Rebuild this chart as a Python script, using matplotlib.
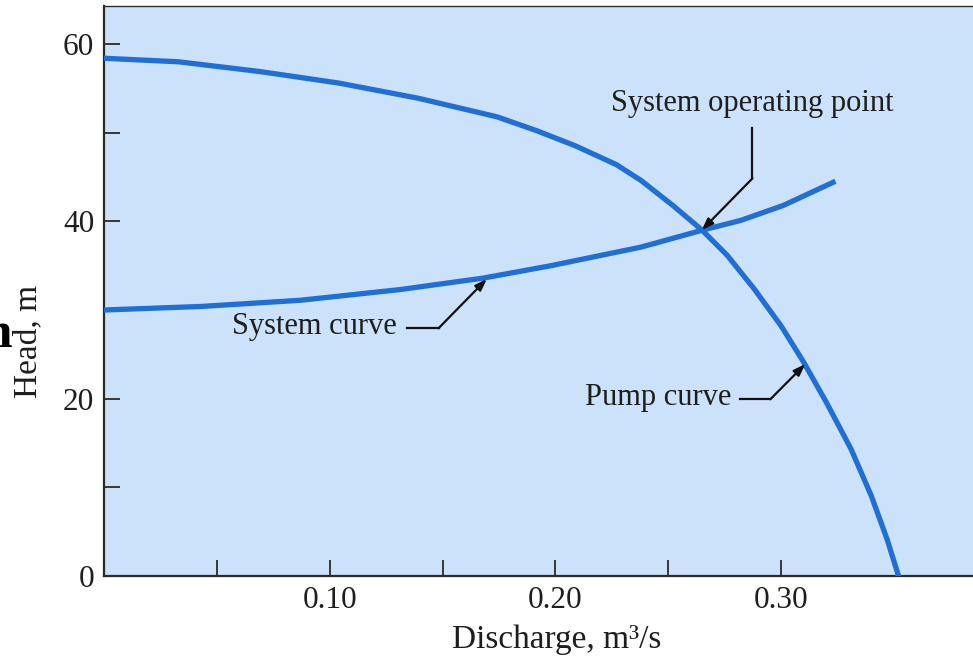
import matplotlib
matplotlib.use("Agg")
import matplotlib.pyplot as plt
from matplotlib.ticker import FixedLocator

# values
pump_q = [0.0, 0.033, 0.069, 0.104, 0.139, 0.174, 0.192, 0.209, 0.227, 0.238, 0.252,
          0.265, 0.276, 0.288, 0.300, 0.310, 0.320, 0.331, 0.340, 0.347, 0.352]
pump_h = [58.4, 58.0, 56.9, 55.6, 53.9, 51.8, 50.2, 48.5, 46.4, 44.6, 41.8,
          39.0, 36.2, 32.4, 28.2, 24.1, 19.6, 14.3, 9.0, 4.1, 0.0]
system_q = [0.0, 0.043, 0.087, 0.131, 0.168, 0.198, 0.238, 0.265, 0.282, 0.301, 0.323]
system_h = [30.0, 30.4, 31.1, 32.3, 33.6, 35.0, 37.1, 39.0, 40.1, 41.8, 44.4]
x_labels = ["0.10", "0.20", "0.30"]
y_labels = ["0", "20", "40", "60"]

plt.rcParams['font.family'] = ['Liberation Serif', 'DejaVu Serif']
fs = 22
txt = '#1e1e1e'
blue = '#1f6fd6'

fig = plt.figure(figsize=(9.73, 6.59), dpi=100)
ax = fig.add_axes([0.1069, 0.126, 0.8931, 0.865])
ax.set_facecolor('#cce1fa')

ax.plot(pump_q, pump_h, color=blue, lw=3.8, solid_joinstyle='round', zorder=3)
ax.plot(system_q, system_h, color=blue, lw=3.8, solid_joinstyle='round', zorder=3)

ax.set_xlim(0, 0.385)
ax.set_ylim(0, 64.3)

ax.xaxis.set_major_locator(FixedLocator([0.1, 0.2, 0.3]))
ax.xaxis.set_minor_locator(FixedLocator([0.05, 0.15, 0.25]))
ax.set_xticklabels(x_labels)
ax.yaxis.set_major_locator(FixedLocator([0, 20, 40, 60]))
ax.yaxis.set_minor_locator(FixedLocator([10, 30, 50]))
ax.set_yticklabels(y_labels)
for w in ['major', 'minor']:
    ax.tick_params(axis='both', which=w, direction='in', length=11.5, width=1.3,
                   color='#2a2a2a', labelsize=22.5, labelcolor=txt, pad=7)
ax.tick_params(top=False, right=False)

ax.spines['right'].set_visible(False)
ax.spines['left'].set_linewidth(1.6)
ax.spines['bottom'].set_linewidth(1.6)
ax.spines['top'].set_linewidth(1.0)
for s in ax.spines.values():
    s.set_color('#2a2a2a')

ax.set_xlabel('Discharge, m³/s', fontsize=24, color=txt)
ax.xaxis.set_label_coords(0.521, -0.085)
ax.set_ylabel('Head, m', fontsize=24, color=txt)
ax.yaxis.set_label_coords(-0.070, 0.412)

# annotations with bent leader lines
kw = dict(color='#111111', lw=1.6, zorder=4)
head = dict(arrowstyle='-|>,head_length=0.7,head_width=0.25', color='#111111', lw=1.6,
            shrinkA=0, shrinkB=0)

ax.text(0.2873, 52.4, 'System operating point', fontsize=fs, color=txt,
        ha='center', va='baseline')
ax.plot([0.2873, 0.2873], [50.5, 44.85], **kw)
ax.annotate('', xy=(0.2648, 39.0), xytext=(0.2873, 44.85), arrowprops=head, zorder=4)

ax.text(0.0566, 28.1, 'System curve', fontsize=fs, color=txt, ha='left', va='center')
ax.plot([0.1342, 0.1482], [27.94, 27.94], **kw)
ax.annotate('', xy=(0.1696, 33.5), xytext=(0.1482, 27.94), arrowprops=head, zorder=4)

ax.text(0.2132, 20.16, 'Pump curve', fontsize=fs, color=txt, ha='left', va='center')
ax.plot([0.2819, 0.2952], [19.93, 19.93], **kw)
ax.annotate('', xy=(0.3107, 23.9), xytext=(0.2952, 19.93), arrowprops=head, zorder=4)

# stray glyph cut at the left edge of the scan
fig.text(12 / 973, 1 - 347 / 659, 'n', fontsize=37, fontweight='bold', color='black',
         ha='right', va='baseline')

fig.savefig('out.png', dpi=100)
